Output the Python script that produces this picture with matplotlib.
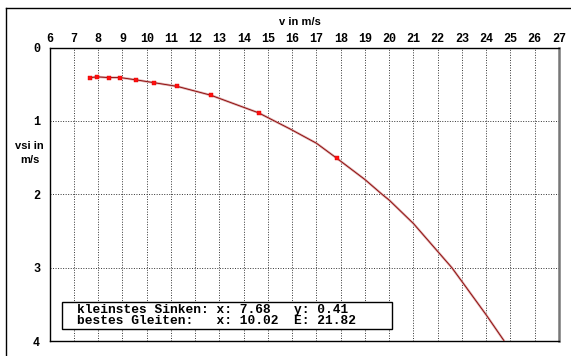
import matplotlib
matplotlib.use("Agg")
import matplotlib.pyplot as plt
from matplotlib.lines import Line2D
from matplotlib.patches import Rectangle

# polar curve (speed v, sink rate vsi)
v_curve = [7.68, 7.96, 8.43, 8.91, 9.54, 10.31, 11.26, 12.64, 14.61, 15.2, 15.91,
           17.0, 17.84, 19.0, 19.7, 20.0, 21.0, 22.0, 22.58, 23.0, 24.0, 24.74]
vsi_curve = [0.41, 0.40, 0.41, 0.41, 0.44, 0.48, 0.53, 0.65, 0.89, 0.99, 1.11,
             1.305, 1.51, 1.80, 2.0, 2.08, 2.40, 2.78, 3.0, 3.19, 3.645, 4.0]

# measured points (red squares)
v_pts = [7.68, 7.96, 8.43, 8.91, 9.54, 10.31, 11.26, 12.64, 14.61, 17.84]
vsi_pts = [0.41, 0.40, 0.41, 0.41, 0.44, 0.48, 0.53, 0.65, 0.89, 1.51]

x_ticks = list(range(6, 28))
y_ticks = [0, 1, 2, 3, 4]

info_lines = [
    "kleinstes Sinken: x: 7.68   y: 0.41",
    "bestes Gleiten:   x: 10.02  E: 21.82",
]

W, H = 571, 356
fig = plt.figure(figsize=(W / 100, H / 100), dpi=100)
fig.patch.set_facecolor("white")

# axes box in pixel bounds
left_px, right_px, top_px, bottom_px = 49.7, 559.0, 47.5, 341.0
ax = fig.add_axes([left_px / W, 1 - bottom_px / H,
                   (right_px - left_px) / W, (bottom_px - top_px) / H])
ax.set_xlim(6, 27)
ax.set_ylim(4, 0)

mono = "Liberation Mono"
ax.set_xticks(x_ticks)
ax.set_xticklabels([str(t) for t in x_ticks], family=mono, fontweight="bold", fontsize=8.5)
ax.set_yticks(y_ticks)
ax.set_yticklabels([str(t) for t in y_ticks], family=mono, fontweight="bold", fontsize=8.5)
ax.xaxis.tick_top()
ax.tick_params(axis="x", length=0, pad=2)
ax.tick_params(axis="y", length=0, pad=7)

ax.grid(True, color="#333333", linestyle=(0, (1, 1.6)), linewidth=0.7)
ax.set_axisbelow(True)

for side in ("left", "top", "bottom"):
    ax.spines[side].set_color("black")
    ax.spines[side].set_linewidth(1.0)
ax.spines["right"].set_color("#777777")
ax.spines["right"].set_linewidth(1.8)

# curve: pink halo + dark red core
ax.plot(v_curve, vsi_curve, color="#dcaaaa", linewidth=1.7, solid_capstyle="butt", zorder=3)
ax.plot(v_curve, vsi_curve, color="#880000", linewidth=0.6, zorder=4)
ax.plot(v_pts, vsi_pts, linestyle="none", marker="s", markersize=2.2,
        markerfacecolor="#ff1010", markeredgecolor="#e00000", markeredgewidth=0.3, zorder=5)

# info box
box = Rectangle((0.0242, 0.0399), 0.6473, 0.092, transform=ax.transAxes,
                facecolor="white", edgecolor="black", linewidth=1.0, zorder=6)
ax.add_patch(box)
ax.text(0.0542, 0.1056, info_lines[0], transform=ax.transAxes, family=mono,
        fontweight="bold", fontsize=9.3, va="center", ha="left", zorder=7)
ax.text(0.0542, 0.0692, info_lines[1], transform=ax.transAxes, family=mono,
        fontweight="bold", fontsize=9.3, va="center", ha="left", zorder=7)

# axis titles
fig.text(300 / W, 1 - 22 / H, "v in m/s", family="Liberation Sans", fontweight="bold",
         fontsize=8, ha="center", va="center")
fig.text(29.5 / W, 1 - 153 / H, "vsi in\nm/s", family="Liberation Sans", fontweight="bold",
         fontsize=8, ha="center", va="center", linespacing=1.5)

# outer frame (left and top edges)
fig.add_artist(Line2D([5.5 / W, 5.5 / W], [0, 1 - 8 / H], color="black", linewidth=1.0))
fig.add_artist(Line2D([5.5 / W, 1], [1 - 8 / H, 1 - 8 / H], color="black", linewidth=1.0))

fig.savefig("out.png", dpi=100)
